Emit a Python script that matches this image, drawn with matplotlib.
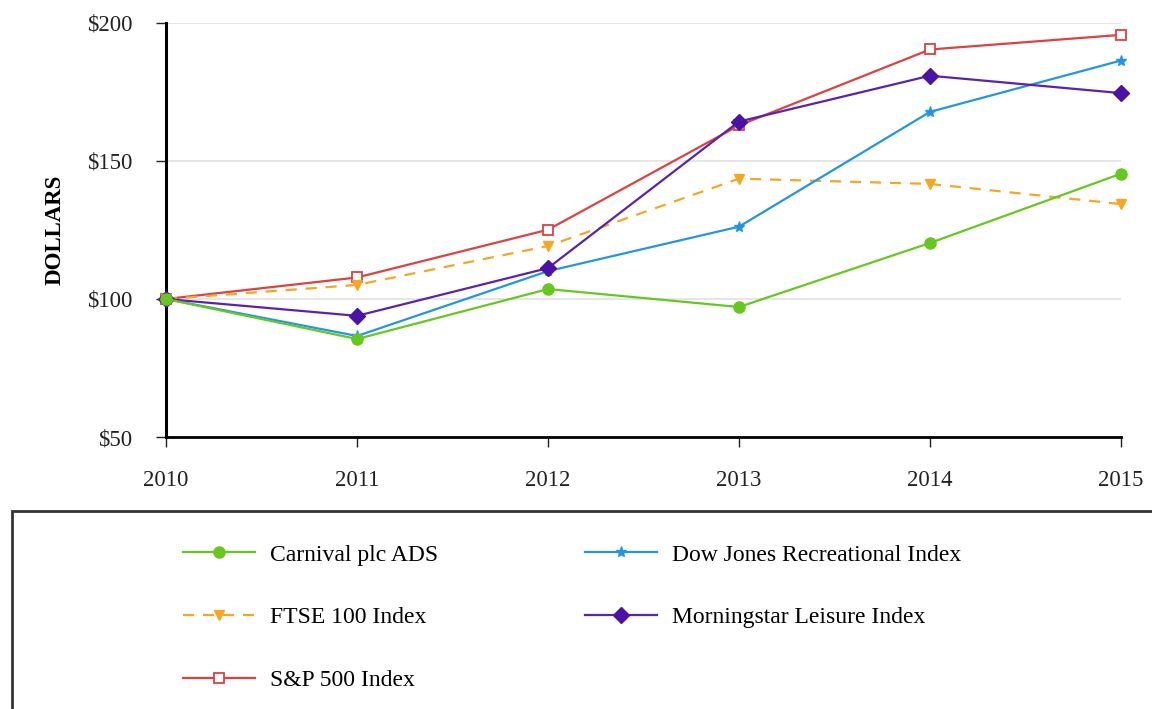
import matplotlib.pyplot as plt
from matplotlib.patches import Rectangle

years = [2010, 2011, 2012, 2013, 2014, 2015]

carnival = [100, 85.5, 103.6, 97.1, 120.3, 145.4]
dow_jones = [100, 86.6, 110.1, 126.2, 167.8, 186.4]
ftse = [100, 105.1, 119.2, 143.6, 141.7, 134.4]
morningstar = [100, 93.9, 111.2, 164.3, 180.9, 174.6]
sp500 = [100, 107.8, 125.1, 162.9, 190.4, 195.7]

y_ticks = [50, 100, 150, 200]

plt.rcParams['font.family'] = ['Liberation Serif', 'DejaVu Serif']
FS = 16.5
LEG_FS = 17

fig = plt.figure(figsize=(11.52, 7.09), dpi=100, facecolor='white')
ax = fig.add_axes([166 / 1152, 1 - 437 / 709, (1121 - 166) / 1152, (437 - 23) / 709])

l_car, = ax.plot(years, carnival, color='#66c81e', lw=1.6, marker='o', ms=8,
                 label='Carnival plc ADS', zorder=6, clip_on=False)
l_dow, = ax.plot(years, dow_jones, color='#2196e8', lw=1.6, marker='*', ms=8,
                 label='Dow Jones Recreational Index', zorder=4, clip_on=False)
l_ftse, = ax.plot(years, ftse, color='#f5a623', lw=1.6, ls=(0, (5, 4)), marker='v',
                  ms=7.5, label='FTSE 100 Index', zorder=3, clip_on=False)
l_morn, = ax.plot(years, morningstar, color='#5a22b0', lw=1.6, marker='D', ms=8.5,
                  mfc='#4b12a8', mec='#4b12a8', label='Morningstar Leisure Index',
                  zorder=5, clip_on=False)
l_sp, = ax.plot(years, sp500, color='#e04040', lw=1.6, marker='s', ms=7.5,
                mfc='white', mec='#e04040', mew=1.3, label='S&P 500 Index',
                zorder=2, clip_on=False)

ax.set_xlim(2010, 2015)
ax.set_ylim(50, 200)
ax.set_xticks(years)
ax.set_yticks(y_ticks)
ax.set_yticklabels([f"${v}" for v in y_ticks])
ax.grid(axis='y', color='#e2e2e2', lw=1.2)
ax.set_axisbelow(True)

for s in ['top', 'right']:
    ax.spines[s].set_visible(False)
ax.spines['left'].set_linewidth(2.2)
ax.spines['bottom'].set_linewidth(2.0)
ax.tick_params(axis='both', labelsize=FS, colors='#222', length=7, width=1, pad=17,
               direction='out')

ax.set_ylabel('DOLLARS', fontsize=FS, fontweight='bold', va='center')
ax.yaxis.set_label_coords(-0.116, 0.5)

# legend box below the plot
fig.patches.append(Rectangle((12 / 1152, -0.1), 1.2, (709 - 511) / 709 + 0.1,
                             transform=fig.transFigure, fill=False,
                             edgecolor='#333333', lw=2))

handles = [l_car, l_ftse, l_sp, l_dow, l_morn]
fig.legend(handles=handles, labels=[h.get_label() for h in handles], ncol=2,
           loc='upper left', bbox_to_anchor=(183 / 1152, 1 - 544 / 709),
           frameon=False, fontsize=LEG_FS, handlelength=3.05, handletextpad=0.65,
           columnspacing=6.2, labelspacing=1.75, borderaxespad=0, borderpad=0)

fig.savefig('out.png', dpi=100)
